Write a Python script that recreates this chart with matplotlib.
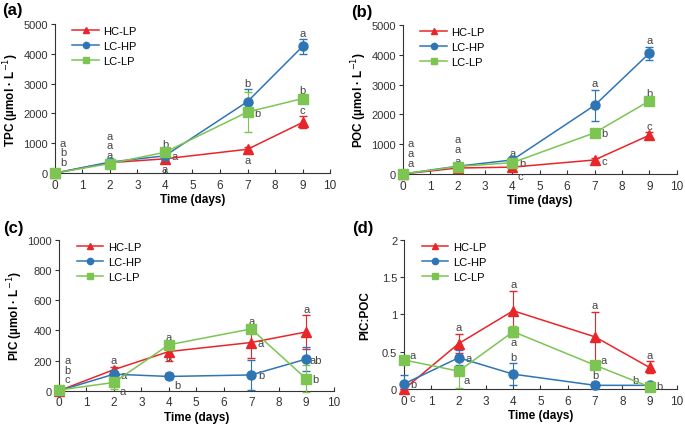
import matplotlib
matplotlib.use("Agg")
import matplotlib.pyplot as plt
from matplotlib.lines import Line2D
import numpy as np

plt.rcParams['font.family'] = ['Liberation Sans', 'DejaVu Sans']
plt.rcParams['font.size'] = 8.5

days = [0, 2, 4, 7, 9]
names = ["HC-LP", "LC-HP", "LC-LP"]
colors = ["#e8262a", "#2e75b6", "#7cc552"]
markers = ["^", "o", "s"]

# TPC
tpc_hclp = [0, 350, 480, 800, 1700]
tpc_hclp_err = [0, 30, 50, 60, 200]
tpc_lchp = [0, 370, 580, 2400, 4250]
tpc_lchp_err = [0, 20, 40, 420, 250]
tpc_lclp = [0, 320, 700, 2050, 2500]
tpc_lclp_err = [0, 20, 50, 680, 60]

# POC
poc_hclp = [0, 200, 230, 470, 1300]
poc_hclp_err = [0, 30, 30, 60, 100]
poc_lchp = [0, 260, 470, 2300, 4050]
poc_lchp_err = [0, 20, 30, 520, 220]
poc_lclp = [0, 250, 380, 1380, 2450]
poc_lclp_err = [0, 20, 30, 80, 50]

# PIC
pic_hclp = [0, 140, 260, 320, 390]
pic_hclp_err = [0, 20, 60, 100, 110]
pic_lchp = [0, 110, 95, 105, 210]
pic_lchp_err = [0, 15, 20, 100, 80]
pic_lclp = [5, 55, 305, 410, 80]
pic_lclp_err = [0, 40, 10, 10, 90]

# PIC:POC
ratio_hclp = [0, 0.61, 1.05, 0.70, 0.29]
ratio_hclp_err = [0, 0.13, 0.27, 0.34, 0.08]
ratio_lchp = [0.07, 0.42, 0.20, 0.05, 0.05]
ratio_lchp_err = [0.12, 0.10, 0.15, 0.05, 0.03]
ratio_lclp = [0.39, 0.24, 0.77, 0.32, 0.03]
ratio_lclp_err = [0, 0.22, 0.07, 0.03, 0.01]

# significance letters: (day index, letter, placement) per series
tpc_letters = [
    [(1, "a", "u"), (2, "a", "d"), (3, "a", "d"), (4, "c", "u")],
    [(1, "a", "u2"), (2, "a", "r"), (3, "b", "u"), (4, "a", "u")],
    [(1, "a", "u3"), (2, "b", "u"), (3, "b", "r"), (4, "b", "u")],
]
tpc_day0 = ["a", "b", "b"]
poc_letters = [
    [(1, "a", "u"), (2, "c", "rd"), (3, "c", "r"), (4, "c", "u")],
    [(1, "a", "u2"), (2, "a", "u"), (3, "a", "u"), (4, "a", "u")],
    [(1, "a", "u3"), (2, "b", "r"), (3, "b", "r"), (4, "b", "u")],
]
poc_day0 = ["a", "a", "a"]
pic_letters = [
    [(1, "a", "u"), (2, "a", "e"), (3, "a", "r"), (4, "a", "u")],
    [(1, "a", "r"), (2, "b", "rd"), (3, "b", "r"), (4, "ab", "r")],
    [(1, "a", "rd"), (2, "a", "u"), (3, "a", "u"), (4, "b", "r")],
]
pic_day0 = ["a", "b", "c"]
ratio_letters = [
    [(0, "c", "rd"), (1, "a", "u"), (2, "a", "u"), (3, "a", "u"), (4, "a", "u")],
    [(0, "b", "r"), (1, "a", "r"), (2, "b", "u"), (3, "b", "u"), (4, "b", "r")],
    [(0, "a", "ru"), (1, "a", "rd"), (2, "a", "d"), (3, "a", "ru"), (4, "b", "lu")],
]

panels = [
    ("(a)", "TPC (µmol · L$^{-1}$)", [tpc_hclp, tpc_lchp, tpc_lclp],
     [tpc_hclp_err, tpc_lchp_err, tpc_lclp_err], 5000, 1000, tpc_letters, tpc_day0,
     [0.080, 0.596, 0.402, 0.346], (0.003, 0.975)),
    ("(b)", "POC (µmol · L$^{-1}$)", [poc_hclp, poc_lchp, poc_lclp],
     [poc_hclp_err, poc_lchp_err, poc_lclp_err], 5000, 1000, poc_letters, poc_day0,
     [0.588, 0.594, 0.400, 0.346], (0.512, 0.972)),
    ("(c)", "PIC (µmol · L$^{-1}$)", [pic_hclp, pic_lchp, pic_lclp],
     [pic_hclp_err, pic_lchp_err, pic_lclp_err], 1000, 200, pic_letters, pic_day0,
     [0.086, 0.091, 0.401, 0.350], (0.005, 0.47)),
    ("(d)", "PIC:POC", [ratio_hclp, ratio_lchp, ratio_lclp],
     [ratio_hclp_err, ratio_lchp_err, ratio_lclp_err], 2, 0.5, ratio_letters, None,
     [0.590, 0.095, 0.398, 0.346], (0.514, 0.47)),
]

offsets = {"u": (0, 1), "u2": (0, 8.5), "u3": (0, 16), "d": (0, -11), "e": (0, -1),
           "r": (7, -4), "rd": (6, -10), "ru": (6, 0), "lu": (-10, 1)}

fig = plt.figure(figsize=(6.85, 4.31), dpi=100)

for label, ylabel, series, errs, ymax, ystep, letters, day0, rect, lpos in panels:
    ax = fig.add_axes(rect)
    for vals, err, name, c, m in zip(series, errs, names, colors, markers):
        ax.errorbar(days, vals, yerr=err, color=c, marker=m, markersize=6.5, lw=1.1,
                    capsize=3, elinewidth=0.8, clip_on=False, zorder=3)
    for s, lst in enumerate(letters):
        for i, txt, pos in lst:
            y = series[s][i]
            if pos.startswith("u"):
                y = y + errs[s][i]
            if pos == "e":
                y = y - errs[s][i]
            dx, dy = offsets[pos]
            ax.annotate(txt, (days[i], y), xytext=(dx, dy), textcoords="offset points",
                        ha="center", va="bottom", fontsize=8, color="#444444")
    if day0 is not None:
        for k, txt in enumerate(day0):
            ax.text(0.3, ymax * (0.205 - 0.065 * k), txt, ha="center", va="center",
                    fontsize=8, color="#444444")
    ax.set_xlim(0, 10)
    ax.set_ylim(0, ymax)
    ax.set_xticks(range(11))
    ax.set_yticks(np.arange(0, ymax + ystep / 2, ystep))
    if ymax == 2:
        ax.set_yticklabels(["0", "0.5", "1", "1.5", "2"])
    ax.spines["top"].set_visible(False)
    ax.spines["right"].set_visible(False)
    ax.spines["left"].set_color("#333333")
    ax.spines["bottom"].set_color("#333333")
    ax.tick_params(axis="x", direction="in", length=3, labelsize=8.5, colors="#333333", pad=4)
    ax.tick_params(axis="y", direction="out", length=3, labelsize=8, colors="#333333", pad=2)
    ax.set_xlabel("Time (days)", fontweight="bold", fontsize=8.5, labelpad=2)
    ax.set_ylabel(ylabel, fontweight="bold", fontsize=8.5)
    ax.yaxis.set_label_coords(-0.122, 0.5)
    handles = [Line2D([], [], color=c, marker=m, markersize=4.5, lw=1.1)
               for c, m in zip(colors, markers)]
    ax.legend(handles, names, loc="upper left", bbox_to_anchor=(0.04, 1.03), frameon=False,
              fontsize=8, handlelength=2.4, labelspacing=0.45, borderaxespad=0.2,
              handletextpad=0.4)
    fig.text(lpos[0], lpos[1], label, fontweight="bold", fontsize=12, va="center")

fig.savefig("out.png", dpi=100)
